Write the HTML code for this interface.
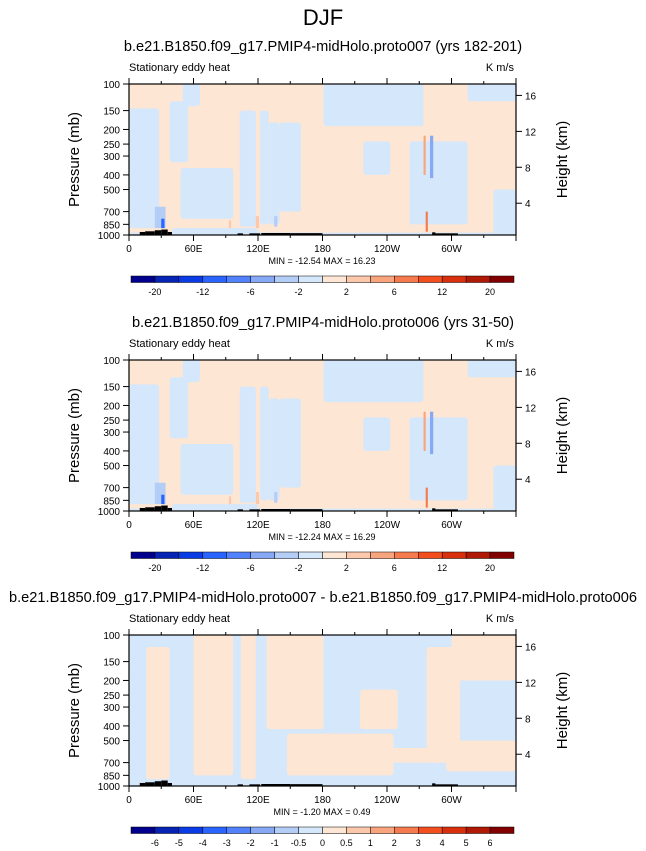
<!DOCTYPE html>
<html><head><meta charset="utf-8"><style>
html,body{margin:0;padding:0;background:#fff;width:646px;height:851px;overflow:hidden}
svg{display:block;font-family:"Liberation Sans",sans-serif}
</style></head><body>
<svg id="fig" width="646" height="851" xmlns="http://www.w3.org/2000/svg">
<text x="323" y="25" font-size="22" text-anchor="middle">DJF</text>
</svg>
<script>
// ---- data ----
const lonTicks = [0, 60, 120, 180, 240, 300];
const lonTickLabels = ["0", "60E", "120E", "180", "120W", "60W"];
const presTicks = [100, 150, 200, 250, 300, 400, 500, 700, 850, 1000];
const heightTicks = [4, 8, 12, 16];
const heightPres = [616, 356, 206, 119]; // approx pressure (mb) of each height level
const colors = ["#00008c","#0624b4","#0a3ce6","#2a64ff","#5282fb","#86a8f5","#b4cdf6","#d5e7fb","#fde6d4","#fbc8ab","#f8a47d","#f57a4e","#f24e1e","#d8300c","#b01906","#820000"];
const labelsAB = ["-20","","-12","","-6","","-2","","2","","6","","12","","20"];
const labelsC = ["-6","-5","-4","-3","-2","-1","-0.5","0","0.5","1","2","3","4","5","6"];
const titles = ["b.e21.B1850.f09_g17.PMIP4-midHolo.proto007 (yrs 182-201)","b.e21.B1850.f09_g17.PMIP4-midHolo.proto006 (yrs 31-50)","b.e21.B1850.f09_g17.PMIP4-midHolo.proto007 - b.e21.B1850.f09_g17.PMIP4-midHolo.proto006"];
const minmax = ["MIN = -12.54  MAX =  16.23","MIN = -12.24  MAX =  16.29","MIN = -1.20  MAX =  0.49"];
// patches: [lon0, lon1, p0, p1] of non-base contour level
const blueAB = [[0,28,145,900],[8,20,160,500],[38,55,130,330],[48,97,360,780],[50,66,100,140],[103,118,150,880],[122,130,150,850],[130,140,180,850],[140,160,180,700],[181,274,100,190],[218,243,240,400],[261,315,240,850],[315,360,100,130],[339,360,500,1000],[0,360,965,1000],[40,120,900,1000]];
const peachC = [[16,38,120,900],[60,97,100,850],[104,118,100,900],[128,181,100,420],[147,246,450,850],[215,250,230,420],[277,308,120,700],[300,360,100,200],[295,360,500,800],[230,290,560,700]];
const strongAB = [[24,34,650,900,"#b4cdf6"],[30,33,780,900,"#2a64ff"],[274,276,220,400,"#f8a47d"],[280,283,220,420,"#86a8f5"],[276,278,700,950,"#f57a4e"],[118,121,750,900,"#fbc8ab"],[93,95,800,900,"#fbc8ab"],[135,138,750,880,"#b4cdf6"]];
const topo = [[10,15,955],[15,24,945],[24,30,930],[30,36,920],[36,40,955],[101,106,975],[112,122,975],[123,150,970],[150,180,972],[282,285,960],[285,306,975]];
// ---- drawing ----
const NS="http://www.w3.org/2000/svg";
const svg=document.getElementById('fig');
function el(tag,attrs,parent){const e=document.createElementNS(NS,tag);for(const k in attrs)e.setAttribute(k,attrs[k]);(parent||svg).appendChild(e);return e;}
const X0=129,X1=516,H=151;
function xs(lon){return X0+(lon/360)*(X1-X0);}
function ysF(top){return p=>top+(Math.log(p/100)/Math.log(10))*H;}
const panelTops=[84,360,635];
function drawPanel(i){
  const top=panelTops[i], ys=ysF(top);
  const g=el('g',{});
  
  
  const t=el('text',{x:323,y:top-33,'font-size':14.6,'text-anchor':'middle'},g);t.textContent=titles[i];
  
  const base = i<2?colors[8]:colors[7], alt = i<2?colors[7]:colors[8];
  const plot=el('g',{},g);
  
  el('rect',{x:X0,y:top,width:X1-X0,height:H,fill:base},plot);
  (i<2?blueAB:peachC).forEach(r=>{
    const rr=el('rect',{x:xs(r[0]),y:ys(r[2]),width:xs(r[1])-xs(r[0]),height:ys(r[3])-ys(r[2]),fill:alt,rx:3},plot);
    
  });
  if(i<2) strongAB.forEach(r=>{
    const rr=el('rect',{x:xs(r[0]),y:ys(r[2]),width:xs(r[1])-xs(r[0]),height:ys(r[3])-ys(r[2]),fill:r[4]},plot);
    
  });
  topo.forEach(r=>{
    const rr=el('rect',{x:xs(r[0]),y:ys(r[2]),width:xs(r[1])-xs(r[0]),height:top+H-ys(r[2]),fill:'#000'},plot);
    
  });
  el('rect',{x:X0,y:top,width:X1-X0,height:H,fill:'none',stroke:'#000','stroke-width':1.2},g);
  for(let l=0;l<=360;l+=30){const x=xs(l),m=l%60==0?6:3;
    el('line',{x1:x,y1:top,x2:x,y2:top-m,stroke:'#000'},g);el('line',{x1:x,y1:top+H,x2:x,y2:top+H+m,stroke:'#000'},g);}
  lonTicks.forEach((l,k)=>{const tt=el('text',{x:xs(l),y:top+H+17,'font-size':10,'text-anchor':'middle'},g);tt.textContent=lonTickLabels[k];
    });
  presTicks.forEach(p=>{const y=ys(p);el('line',{x1:X0,y1:y,x2:X0-6,y2:y,stroke:'#000'},g);
    const tt=el('text',{x:X0-9,y:y+4,'font-size':10,'text-anchor':'end'},g);tt.textContent=p;
    });
  heightTicks.forEach((h,k)=>{const y=ys(heightPres[k]);el('line',{x1:X1,y1:y,x2:X1+6,y2:y,stroke:'#000'},g);
    const tt=el('text',{x:X1+9,y:y+4,'font-size':10},g);tt.textContent=h;
    });
  const yl=el('text',{x:0,y:0,'font-size':15,'text-anchor':'middle',transform:`translate(79,${top+H/2}) rotate(-90)`},g);yl.textContent='Pressure (mb)';
  
  const yr=el('text',{x:0,y:0,'font-size':15,'text-anchor':'middle',transform:`translate(567,${top+H/2}) rotate(-90)`},g);yr.textContent='Height (km)';
  
  const ls=el('text',{x:X0,y:top-13,'font-size':11},g);ls.textContent='Stationary eddy heat';
  
  const rs=el('text',{x:X1-2,y:top-13,'font-size':11,'text-anchor':'end'},g);rs.textContent='K m/s';
  
  const mm=el('text',{x:322,y:top+H+29,'font-size':9,'text-anchor':'middle'},g);mm.textContent=minmax[i];
  
  const cb=el('g',{},g);
  const cy=top+H+41,bw=(514-131)/16;
  colors.forEach((c,k)=>{el('rect',{x:131+k*bw,y:cy,width:bw,height:6.5,fill:c,stroke:'#000','stroke-width':0.5},cb);});
  const labs=i<2?labelsAB:labelsC;
  labs.forEach((s,k)=>{if(!s)return;const tt=el('text',{x:131+(k+1)*bw,y:cy+19,'font-size':9,'text-anchor':'middle'},cb);tt.textContent=s;
    });
}
[0,1,2].forEach(drawPanel);
</script>
</body></html>
